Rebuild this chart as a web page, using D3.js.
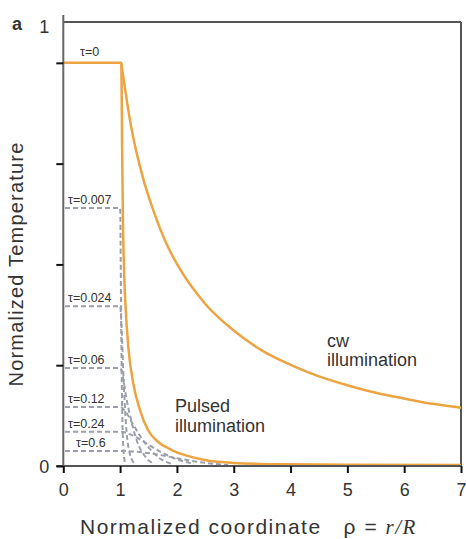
<!DOCTYPE html>
<html>
<head>
<meta charset="utf-8">
<script src="https://cdn.jsdelivr.net/npm/d3@7"></script>
<style>
    body { margin: 0; background: #fff; }
    svg text { font-family: "Liberation Sans", Arial, sans-serif; fill: #333; }
</style>
</head>
<body>
<svg id="chart" width="466" height="539"></svg>
<script>
// values
const xTicks = [0, 1, 2, 3, 4, 5, 6, 7];
const yTickMarks = [0, 0.227, 0.454, 0.681, 0.908];
const yLabels = [{ v: 0, t: "0" }, { v: 1, t: "1" }];

const pulsed = [
    [0, 0.908], [1.02, 0.908], [1.035, 0.72], [1.05, 0.55], [1.07, 0.44], [1.09, 0.374],
    [1.15, 0.261], [1.23, 0.187], [1.35, 0.126], [1.49, 0.081], [1.67, 0.054],
    [1.91, 0.036], [2.27, 0.020], [2.49, 0.0135], [3.0, 0.007], [3.9, 0.004],
    [5.0, 0.003], [7.0, 0.002]
];

const cw = [
    [1.02, 0.908], [1.2, 0.76], [1.4, 0.65], [1.6, 0.57], [1.8, 0.505], [2.0, 0.455],
    [2.5, 0.365], [3.0, 0.305], [3.5, 0.26], [4.0, 0.228], [4.5, 0.202], [5.0, 0.182],
    [5.5, 0.165], [6.0, 0.152], [6.5, 0.140], [7.0, 0.131]
];

const tauNames = ["τ=0.007", "τ=0.024", "τ=0.06", "τ=0.12", "τ=0.24", "τ=0.6"];
const tauCurves = [
    [[0.03, 0.581], [1.0, 0.581], [1.02, 0.30], [1.04, 0.10], [1.07, 0.02], [1.1, 0.0]],
    [[0.03, 0.360], [1.0, 0.360], [1.03, 0.30], [1.06, 0.20], [1.1, 0.10], [1.15, 0.04], [1.25, 0.005]],
    [[0.03, 0.221], [1.0, 0.221], [1.05, 0.20], [1.1, 0.16], [1.2, 0.10], [1.3, 0.055], [1.45, 0.02], [1.6, 0.004]],
    [[0.03, 0.133], [1.0, 0.133], [1.1, 0.122], [1.2, 0.10], [1.35, 0.068], [1.5, 0.042], [1.7, 0.017], [1.9, 0.005]],
    [[0.03, 0.077], [1.0, 0.077], [1.2, 0.070], [1.4, 0.056], [1.6, 0.040], [1.8, 0.026], [2.0, 0.015], [2.3, 0.005]],
    [[0.03, 0.034], [1.0, 0.034], [1.3, 0.032], [1.6, 0.027], [1.9, 0.020], [2.2, 0.013], [2.5, 0.007], [2.9, 0.002]]
];

const orange = "#eba441";
const grey = "#9a9fab";
const axisColor = "#555";

const svg = d3.select("#chart");
const x = d3.scaleLinear().domain([0, 7]).range([63.3, 461]);
const y = d3.scaleLinear().domain([0, 1]).range([466, 22]);

const line = d3.line()
    .x(d => x(d[0]))
    .y(d => y(d[1]))
    .curve(d3.curveMonotoneX);

// frame: top and right border
svg.append("line")
    .attr("x1", x(0)).attr("x2", x(7))
    .attr("y1", y(1)).attr("y2", y(1))
    .attr("stroke", axisColor).attr("stroke-width", 2);
svg.append("line")
    .attr("x1", x(7)).attr("x2", x(7))
    .attr("y1", y(1)).attr("y2", y(0))
    .attr("stroke", axisColor).attr("stroke-width", 2);

// grey dashed profiles
svg.append("g")
    .selectAll("path")
    .data(tauCurves)
    .enter()
    .append("path")
    .attr("d", line)
    .attr("fill", "none")
    .attr("stroke", grey)
    .attr("stroke-width", 2)
    .attr("stroke-dasharray", "5,3");

// orange curves
svg.append("path")
    .attr("d", line(cw))
    .attr("fill", "none")
    .attr("stroke", orange)
    .attr("stroke-width", 2.5);
svg.append("path")
    .attr("d", line(pulsed))
    .attr("fill", "none")
    .attr("stroke", orange)
    .attr("stroke-width", 2.5);

// x axis
const xAxis = svg.append("g")
    .attr("transform", "translate(0," + y(0) + ")")
    .call(d3.axisBottom(x).tickValues(xTicks).tickSize(7).tickPadding(10).tickFormat(d3.format("d")));
xAxis.select(".domain").attr("stroke", axisColor).attr("stroke-width", 2).attr("d", "M" + (x(0) - 7) + ",0H" + x(7));
xAxis.selectAll(".tick line").attr("stroke", "#111").attr("stroke-width", 2);
xAxis.selectAll(".tick text").attr("font-size", 18).attr("fill", "#333")
    .attr("font-family", "Liberation Sans, Arial, sans-serif");

// y axis
const yAxis = svg.append("g")
    .attr("transform", "translate(" + x(0) + ",0)")
    .call(d3.axisLeft(y).tickValues(yTickMarks).tickSize(7).tickFormat(""));
yAxis.select(".domain").attr("stroke", "#666").attr("stroke-width", 2).attr("d", "M0," + (y(1) - 7) + "V" + y(0));
yAxis.selectAll(".tick line").attr("stroke", "#111").attr("stroke-width", 2);

svg.append("g")
    .selectAll("text")
    .data(yLabels)
    .enter()
    .append("text")
    .attr("x", x(0) - 14)
    .attr("y", d => y(d.v) + (d.v === 1 ? 11 : 7))
    .attr("text-anchor", "end")
    .attr("font-size", 18)
    .text(d => d.t);

// tau labels
svg.append("text")
    .attr("x", 80).attr("y", 56)
    .attr("font-size", 12.5)
    .text("τ=0");
svg.append("g")
    .selectAll("text")
    .data(tauNames)
    .enter()
    .append("text")
    .attr("x", (d, i) => i === 5 ? 76 : 68)
    .attr("y", (d, i) => y(tauCurves[i][0][1]) - 4)
    .attr("font-size", 12.5)
    .text(d => d);

// curve labels
svg.append("text").attr("x", 327).attr("y", 347).attr("font-size", 18).text("cw");
svg.append("text").attr("x", 327).attr("y", 366).attr("font-size", 18).text("illumination");
svg.append("text").attr("x", 175).attr("y", 412).attr("font-size", 18).text("Pulsed");
svg.append("text").attr("x", 175).attr("y", 432).attr("font-size", 18).text("illumination");

// axis titles
svg.append("text")
    .attr("transform", "translate(23,264) rotate(-90)")
    .attr("text-anchor", "middle")
    .attr("font-size", 20)
    .attr("letter-spacing", 1.2)
    .text("Normalized Temperature");

const xt = svg.append("text")
    .attr("x", 80).attr("y", 534)
    .attr("font-size", 21)
    .attr("letter-spacing", 1.5);
xt.append("tspan").text("Normalized coordinate");
xt.append("tspan").attr("dx", 22).text("ρ = ");
xt.append("tspan").attr("font-family", "Liberation Serif, Times New Roman, serif").attr("font-style", "italic").text("r/R");

// panel letter
svg.append("text")
    .attr("x", 12).attr("y", 30)
    .attr("font-size", 18)
    .attr("font-weight", "bold")
    .attr("fill", "#111")
    .text("a");
</script>
</body>
</html>
